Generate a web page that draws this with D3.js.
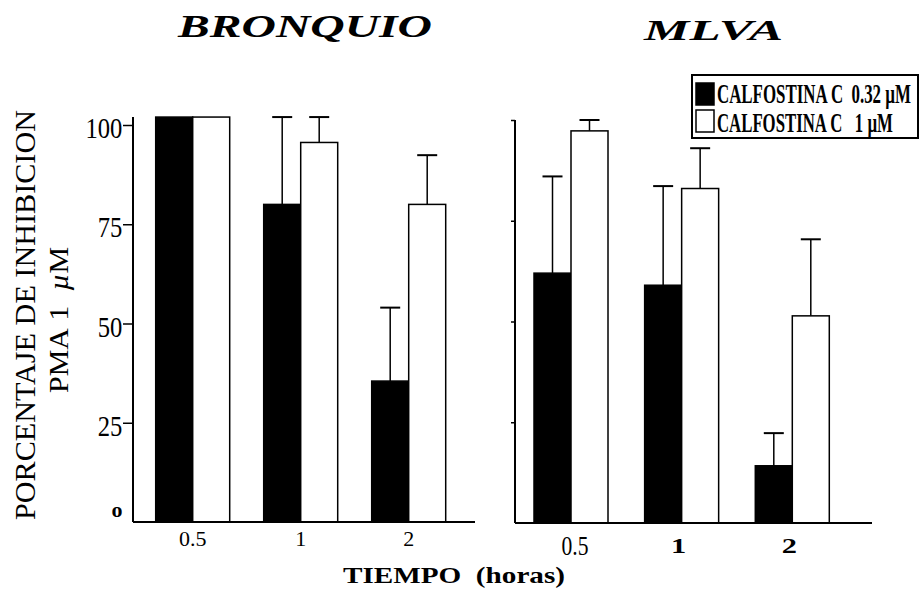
<!DOCTYPE html>
<html>
<head>
<meta charset="utf-8">
<script src="https://cdn.jsdelivr.net/npm/d3@7"></script>
<style>
  body { margin: 0; background: #fff; }
  svg { display: block; }
  text { font-family: "Liberation Serif", "Times New Roman", serif; fill: #000; }
</style>
</head>
<body>
<svg class="chart"></svg>
<script>
// tiempos (horas) y series
const times = ["0.5", "1", "2"];
const seriesNames = ["CALFOSTINA C\u00a0\u00a00.32 \u00b5M", "CALFOSTINA C\u00a0\u00a0\u00a01 \u00b5M"];
const yTicks = [25, 50, 75, 100];

// BRONQUIO: media y error (barra superior)
const bronquioLow = [102, 80, 35.5];
const bronquioLowErr = [0, 22, 18.5];
const bronquioHigh = [102, 95.6, 80];
const bronquioHighErr = [0, 6.4, 12.4];

// MLVA
const mlvaLow = [62, 59, 14.2];
const mlvaLowErr = [24, 24.6, 8.1];
const mlvaHigh = [97.3, 83, 51.4];
const mlvaHighErr = [2.7, 10, 19];

const width = 919, height = 601, barW = 37;

const svg = d3.select(".chart").attr("width", width).attr("height", height);

// squeeze/stretch a text horizontally around its anchor
function place(sel, x, y, sx, rot) {
    sel.attr("x", 0).attr("y", 0)
       .attr("transform", `translate(${x},${y})` + (rot ? ` rotate(${rot})` : "") + ` scale(${sx},1)`);
}
// scale a text so that it is exactly len px long
function fit(sel, x, y, len, rot) {
    const w = sel.node().getComputedTextLength();
    place(sel, x, y, len / w, rot);
}

function drawPanel(p) {
    const g = svg.append("g");
    const x = d3.scalePoint().domain(times).range(p.xRange);

    const rows = times.map((t, i) => [
        { t, k: 0, v: p.low[i], e: p.lowErr[i] },
        { t, k: 1, v: p.high[i], e: p.highErr[i] }
    ]).flat();

    // error bars first, bars drawn over them
    const err = rows.filter(d => d.e > 0);
    const bx = d => x(d.t) + (d.k === 0 ? -barW : 0);
    g.selectAll(".err").data(err).enter().append("line")
        .attr("x1", d => bx(d) + barW / 2).attr("x2", d => bx(d) + barW / 2)
        .attr("y1", d => p.y(d.v)).attr("y2", d => p.y(d.v + d.e))
        .attr("stroke", "#000").attr("stroke-width", 1.5);
    g.selectAll(".cap").data(err).enter().append("line")
        .attr("x1", d => bx(d) + barW / 2 - 10).attr("x2", d => bx(d) + barW / 2 + 10)
        .attr("y1", d => p.y(d.v + d.e)).attr("y2", d => p.y(d.v + d.e))
        .attr("stroke", "#000").attr("stroke-width", 2);

    g.selectAll(".bar").data(rows).enter().append("rect")
        .attr("x", bx)
        .attr("y", d => p.y(d.v))
        .attr("width", barW)
        .attr("height", d => p.y(0) - p.y(d.v))
        .attr("fill", d => d.k === 0 ? "#000" : "#fff")
        .attr("stroke", "#000").attr("stroke-width", 1.5);

    // y axis
    const ax = g.append("g").attr("transform", `translate(${p.axisX},0)`)
        .call(d3.axisLeft(p.y).tickValues(yTicks).tickSize(p.tickLen).tickPadding(3)
              .tickFormat(p.labels ? d3.format("d") : ""));
    ax.select(".domain").remove();
    ax.selectAll(".tick line").attr("stroke-width", 1.5);
    ax.selectAll(".tick text")
        .style("font-size", "30px")
        .attr("font-family", "Liberation Serif")
        .attr("transform", "scale(0.82,1)")
        .attr("dy", "0.42em");
    g.append("line")
        .attr("x1", p.axisX).attr("x2", p.axisX)
        .attr("y1", p.y(p.axisTop)).attr("y2", p.y(0))
        .attr("stroke", "#000").attr("stroke-width", 2);
    g.append("line")
        .attr("x1", p.axisX).attr("x2", p.axisEnd)
        .attr("y1", p.y(0)).attr("y2", p.y(0))
        .attr("stroke", "#000").attr("stroke-width", 2);

    return { g, x };
}

// BRONQUIO
const yL = d3.scaleLinear().domain([0, 100]).range([522, 125]);
const left = drawPanel({
    xRange: [192.7, 408.7], y: yL, axisX: 133, axisEnd: 475, axisTop: 102,
    tickLen: 10, labels: true,
    low: bronquioLow, lowErr: bronquioLowErr, high: bronquioHigh, highErr: bronquioHighErr
});
left.g.append("text").text("o")
    .attr("x", 117).attr("y", 517).attr("text-anchor", "middle")
    .style("font-size", "22px").style("font-weight", "bold");
left.g.selectAll(".xl").data(times).enter().append("text")
    .attr("x", d => left.x(d)).attr("y", 546)
    .attr("text-anchor", "middle").style("font-size", "22px")
    .text(d => d);

// MLVA
const yR = d3.scaleLinear().domain([0, 100]).range([523, 120]);
const right = drawPanel({
    xRange: [571, 792.3], y: yR, axisX: 515, axisEnd: 872, axisTop: 100,
    tickLen: 4, labels: false,
    low: mlvaLow, lowErr: mlvaLowErr, high: mlvaHigh, highErr: mlvaHighErr
});
right.g.selectAll(".xl").data(times).enter().append("text")
    .attr("text-anchor", "middle")
    .style("font-size", d => d === "0.5" ? "27px" : "21px")
    .style("font-weight", d => d === "0.5" ? "normal" : "bold")
    .text(d => d)
    .each(function (d) {
        place(d3.select(this), right.x(d) + (d === "0.5" ? 4 : -3), d === "0.5" ? 555 : 553, d === "0.5" ? 0.8 : 1.45);
    });

// titles
svg.append("text").text("BRONQUIO")
    .attr("x", 178).attr("y", 37)
    .attr("textLength", 254).attr("lengthAdjust", "spacingAndGlyphs")
    .style("font-size", "32px").style("font-weight", "bold").style("font-style", "italic");
svg.append("text").text("MLVA")
    .attr("x", 644).attr("y", 40)
    .attr("textLength", 139).attr("lengthAdjust", "spacingAndGlyphs")
    .style("font-size", "29px").style("font-weight", "bold").style("font-style", "italic");

// y axis title
const yt1 = svg.append("text").text("PORCENTAJE DE INHIBICION")
    .attr("text-anchor", "middle")
    .attr("textLength", 410).attr("lengthAdjust", "spacingAndGlyphs")
    .style("font-size", "30px");
place(yt1, 35, 315, 1, -90);
const yt2 = svg.append("text")
    .attr("text-anchor", "middle")
    .attr("textLength", 146).attr("lengthAdjust", "spacingAndGlyphs")
    .style("font-size", "27px");
yt2.append("tspan").text("PMA\u00a01\u00a0\u00a0");
yt2.append("tspan").text("\u00b5").style("font-style", "italic");
yt2.append("tspan").text("M");
place(yt2, 68, 320, 1, -90);

// x axis title
svg.append("text").text("TIEMPO\u00a0\u00a0(horas)")
    .attr("x", 343).attr("y", 583)
    .attr("textLength", 222).attr("lengthAdjust", "spacingAndGlyphs")
    .style("font-size", "23px").style("font-weight", "bold");

// legend
const lg = svg.append("g");
lg.append("rect").attr("x", 692).attr("y", 75).attr("width", 226).attr("height", 63)
    .attr("fill", "#fff").attr("stroke", "#000").attr("stroke-width", 2);
const legRows = seriesNames.map((s, i) => ({ s, i }));
lg.selectAll(".sw").data(legRows).enter().append("rect")
    .attr("x", 696).attr("y", d => 83 + d.i * 27)
    .attr("width", 18).attr("height", 22)
    .attr("fill", d => d.i === 0 ? "#000" : "#fff")
    .attr("stroke", "#000").attr("stroke-width", 1.5);
lg.selectAll(".lt").data(legRows).enter().append("text")
    .style("font-size", "28px").style("font-weight", "bold")
    .text(d => d.s)
    .each(function (d) {
        fit(d3.select(this), 717, 103 + d.i * 29, d.i === 0 ? 194 : 176);
    });
</script>
</body>
</html>
